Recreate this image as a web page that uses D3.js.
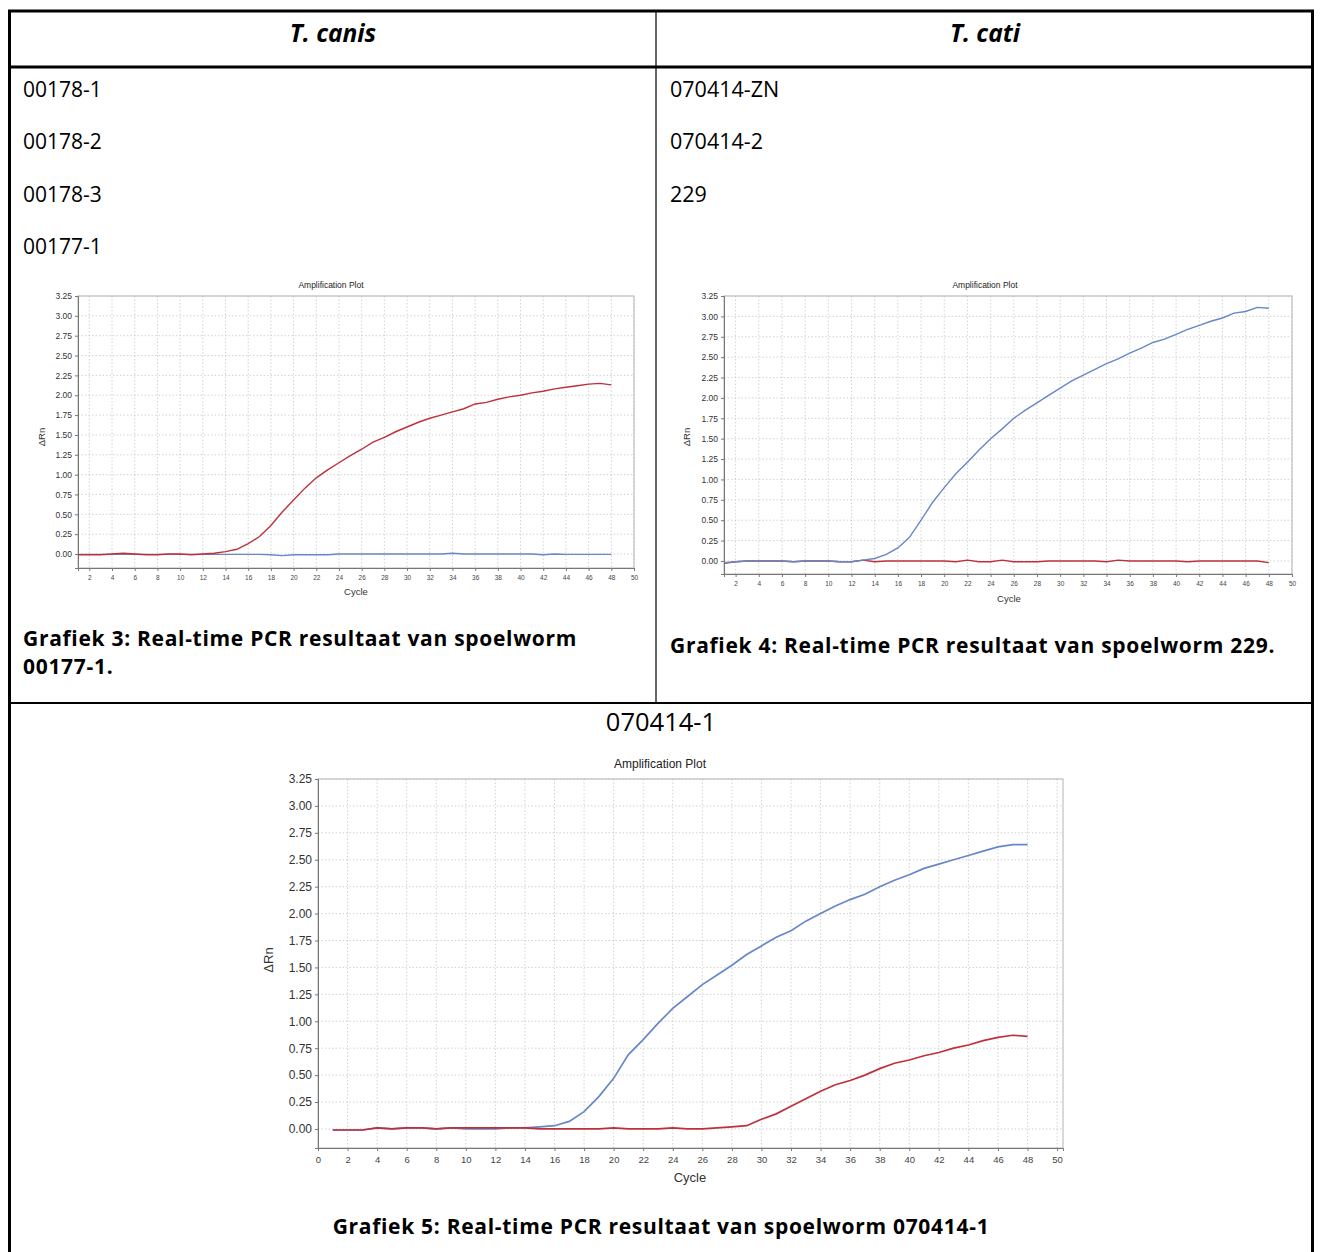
<!DOCTYPE html>
<html><head><meta charset="utf-8">
<script src="https://cdn.jsdelivr.net/npm/d3@7"></script>
<style>
html,body{margin:0;padding:0;background:#fff;}
svg text{font-family:"Liberation Sans",Arial,sans-serif;}
.tbl{font-family:"Open Sans",sans-serif;fill:#000;}
.cap{font-weight:bold;letter-spacing:0.7px;}
</style></head>
<body><svg id="c" width="1320" height="1252"></svg>
<script>
// ---- data ----
const cyclesA = d3.range(1, 49);
// Grafiek 3 (T. canis 00177-1)
const g3Red = [-0.01,-0.01,-0.01,0.0,0.01,0.0,-0.01,-0.01,0.0,0.0,-0.01,0.0,0.01,0.03,0.06,0.13,0.22,0.36,0.53,0.68,0.83,0.96,1.06,1.15,1.24,1.32,1.41,1.47,1.54,1.60,1.66,1.71,1.75,1.79,1.83,1.89,1.91,1.95,1.98,2.00,2.03,2.05,2.08,2.10,2.12,2.14,2.15,2.13];
const g3Blue = [-0.005,-0.005,-0.005,-0.005,-0.005,-0.005,-0.005,-0.005,-0.005,-0.005,-0.005,-0.005,-0.005,-0.005,-0.005,-0.005,-0.005,-0.01,-0.02,-0.01,-0.01,-0.01,-0.01,0.0,0.0,0.0,0.0,0.0,0.0,0.0,0.0,0.0,0.0,0.01,0.0,0.0,0.0,0.0,0.0,0.0,0.0,-0.01,0.0,-0.005,-0.005,-0.005,-0.005,-0.005];
// Grafiek 4 (T. cati 229)
const g4Blue = [-0.02,-0.01,0.0,0.0,0.0,0.0,-0.01,0.0,0.0,0.0,-0.01,-0.01,0.01,0.03,0.08,0.16,0.29,0.50,0.72,0.90,1.07,1.21,1.36,1.50,1.62,1.75,1.85,1.94,2.03,2.12,2.21,2.28,2.35,2.42,2.48,2.55,2.61,2.68,2.72,2.78,2.84,2.89,2.94,2.98,3.04,3.06,3.11,3.10];
const g4Red = [-0.03,-0.01,0.0,0.0,0.0,0.0,-0.01,0.0,0.0,0.0,-0.01,-0.01,0.01,-0.01,0.0,0.0,0.0,0.0,0.0,0.0,-0.01,0.01,-0.01,-0.01,0.01,-0.01,-0.01,-0.01,0.0,0.0,0.0,0.0,0.0,-0.01,0.01,0.0,0.0,0.0,0.0,0.0,-0.01,0.0,0.0,0.0,0.0,0.0,0.0,-0.02];
// Grafiek 5 (070414-1)
const g5Blue = [-0.01,-0.01,-0.01,0.01,0.0,0.01,0.01,0.0,0.01,0.0,0.0,0.0,0.01,0.01,0.02,0.03,0.07,0.16,0.30,0.47,0.69,0.83,0.98,1.12,1.23,1.34,1.43,1.52,1.62,1.70,1.78,1.84,1.93,2.00,2.07,2.13,2.18,2.25,2.31,2.36,2.42,2.46,2.50,2.54,2.58,2.62,2.64,2.64];
const g5Red = [-0.01,-0.01,-0.01,0.01,0.0,0.01,0.01,0.0,0.01,0.01,0.01,0.01,0.01,0.01,0.0,0.0,0.0,0.0,0.0,0.01,0.0,0.0,0.0,0.01,0.0,0.0,0.01,0.02,0.03,0.09,0.14,0.21,0.28,0.35,0.41,0.45,0.50,0.56,0.61,0.64,0.68,0.71,0.75,0.78,0.82,0.85,0.87,0.86];
const yTicks = [0,0.25,0.5,0.75,1,1.25,1.5,1.75,2,2.25,2.5,2.75,3,3.25];
const xTicksAB = d3.range(2, 51, 2);
const xTicksC = d3.range(0, 51, 2);

const leftRows = ["00178-1","00178-2","00178-3","00177-1"];
const rightRows = ["070414-ZN","070414-2","229"];

const svg = d3.select("#c");
const BLUE = "#6687c8", RED = "#c0303c";

// ---- table ----
const T = svg.append("g");
const ln = (x1,y1,x2,y2,w)=>T.append("line").attr("x1",x1).attr("y1",y1).attr("x2",x2).attr("y2",y2).attr("stroke","#000").attr("stroke-width",w);
ln(8,11,1314,11,3);
ln(9.5,10,9.5,1252,3);
ln(1312.5,10,1312.5,1252,3);
ln(8,67,1314,67,3);
ln(656,11,656,703,1.2);
ln(8,703,1314,703,2);

T.append("text").attr("class","tbl").attr("x",333).attr("y",42).attr("text-anchor","middle")
  .attr("font-size",24.5).attr("font-weight","bold").attr("font-style","italic").text("T. canis");
T.append("text").attr("class","tbl").attr("x",985).attr("y",42).attr("text-anchor","middle")
  .attr("font-size",24.5).attr("font-weight","bold").attr("font-style","italic").text("T. cati");
leftRows.forEach((t,i)=>T.append("text").attr("class","tbl").attr("x",23).attr("y",97+i*52.3).attr("font-size",21).text(t));
rightRows.forEach((t,i)=>T.append("text").attr("class","tbl").attr("x",670).attr("y",97+i*52.3).attr("font-size",21.5).text(t));
T.append("text").attr("class","tbl cap").attr("x",23).attr("y",646).attr("font-size",21).text("Grafiek 3: Real-time PCR resultaat van spoelworm");
T.append("text").attr("class","tbl cap").attr("x",23).attr("y",674).attr("font-size",21).text("00177-1.");
T.append("text").attr("class","tbl cap").attr("x",670).attr("y",653).attr("font-size",21).text("Grafiek 4: Real-time PCR resultaat van spoelworm 229.");
T.append("text").attr("class","tbl").attr("x",661).attr("y",731).attr("text-anchor","middle").attr("font-size",25.5).text("070414-1");
T.append("text").attr("class","tbl cap").attr("x",661).attr("y",1234).attr("text-anchor","middle").attr("font-size",21).text("Grafiek 5: Real-time PCR resultaat van spoelworm 070414-1");

// ---- chart function ----
function chart(o){
  const g = svg.append("g");
  const x = d3.scaleLinear().domain(o.xd).range([o.l,o.r]);
  const y = d3.scaleLinear().domain(o.yd).range([o.b,o.t]);
  const grid = g.append("g").attr("stroke","#c8c8c8").attr("stroke-width",0.8).attr("stroke-dasharray","1.5,2");
  grid.selectAll("line.h").data(yTicks).join("line").attr("x1",o.l).attr("x2",o.r).attr("y1",d=>y(d)).attr("y2",d=>y(d));
  grid.selectAll("line.v").data(o.xt.filter(d=>d>o.xd[0])).join("line").attr("y1",o.t).attr("y2",o.b).attr("x1",d=>x(d)).attr("x2",d=>x(d));
  g.append("rect").attr("x",o.l).attr("y",o.t).attr("width",o.r-o.l).attr("height",o.b-o.t).attr("fill","none").attr("stroke","#b4b4b4").attr("stroke-width",1);
  const ya = g.append("g").attr("transform",`translate(${o.l},0)`).call(d3.axisLeft(y).tickValues(yTicks).tickFormat(d3.format(".2f")).tickSize(3).tickPadding(3));
  ya.select(".domain").attr("stroke","#777");
  ya.selectAll(".tick line").attr("stroke","#777");
  ya.selectAll("text").attr("font-size",o.yf).attr("fill","#333").attr("font-family","'Liberation Sans',Arial,sans-serif");
  const xa = g.append("g").attr("transform",`translate(0,${o.b})`).call(d3.axisBottom(x).tickValues(o.xt).tickSize(3).tickPadding(o.xp));
  xa.select(".domain").attr("stroke","#777");
  xa.selectAll(".tick line").attr("stroke","#777");
  xa.selectAll("text").attr("font-size",o.xf).attr("fill","#444").attr("font-family","'Liberation Sans',Arial,sans-serif");
  g.append("text").attr("x",o.tx).attr("y",o.ty).attr("text-anchor","middle").attr("font-size",o.tf).attr("fill","#222").text("Amplification Plot");
  g.append("text").attr("x",o.cx).attr("y",o.cy).attr("text-anchor","middle").attr("font-size",o.cf).attr("fill","#333").text("Cycle");
  g.append("text").attr("transform",`translate(${o.yx},${o.yy}) rotate(-90)`).attr("text-anchor","middle").attr("font-size",o.cf).attr("fill","#333").text("ΔRn");
  const line = d3.line().x((d,i)=>x(cyclesA[i])).y(d=>y(d));
  o.series.forEach(s=>{
    g.append("path").datum(s.v).attr("d",line).attr("fill","none").attr("stroke",s.c).attr("stroke-width",o.lw);
  });
}

chart({l:78,r:634,t:296,b:568,xd:[1,50],yd:[-0.176,3.25],xt:xTicksAB,yf:8.5,xf:6.5,xp:4,
  tx:331,ty:288,tf:8.5,cx:356,cy:595,cf:9.5,yx:45,yy:437,lw:1.4,
  series:[{v:g3Blue,c:BLUE},{v:g3Red,c:RED}]});
chart({l:724,r:1292,t:296,b:574,xd:[1,50],yd:[-0.16,3.25],xt:xTicksAB,yf:8.5,xf:6.5,xp:4,
  tx:985,ty:288,tf:8.5,cx:1009,cy:602,cf:9.5,yx:690,yy:437,lw:1.4,
  series:[{v:g4Red,c:RED},{v:g4Blue,c:BLUE}]});
chart({l:318,r:1063,t:779,b:1148,xd:[0,50.4],yd:[-0.177,3.25],xt:xTicksC,yf:12,xf:9.5,xp:5,
  tx:660,ty:768,tf:12,cx:690,cy:1182,cf:13,yx:273,yy:960,lw:1.7,
  series:[{v:g5Blue,c:BLUE},{v:g5Red,c:RED}]});
</script></body></html>
